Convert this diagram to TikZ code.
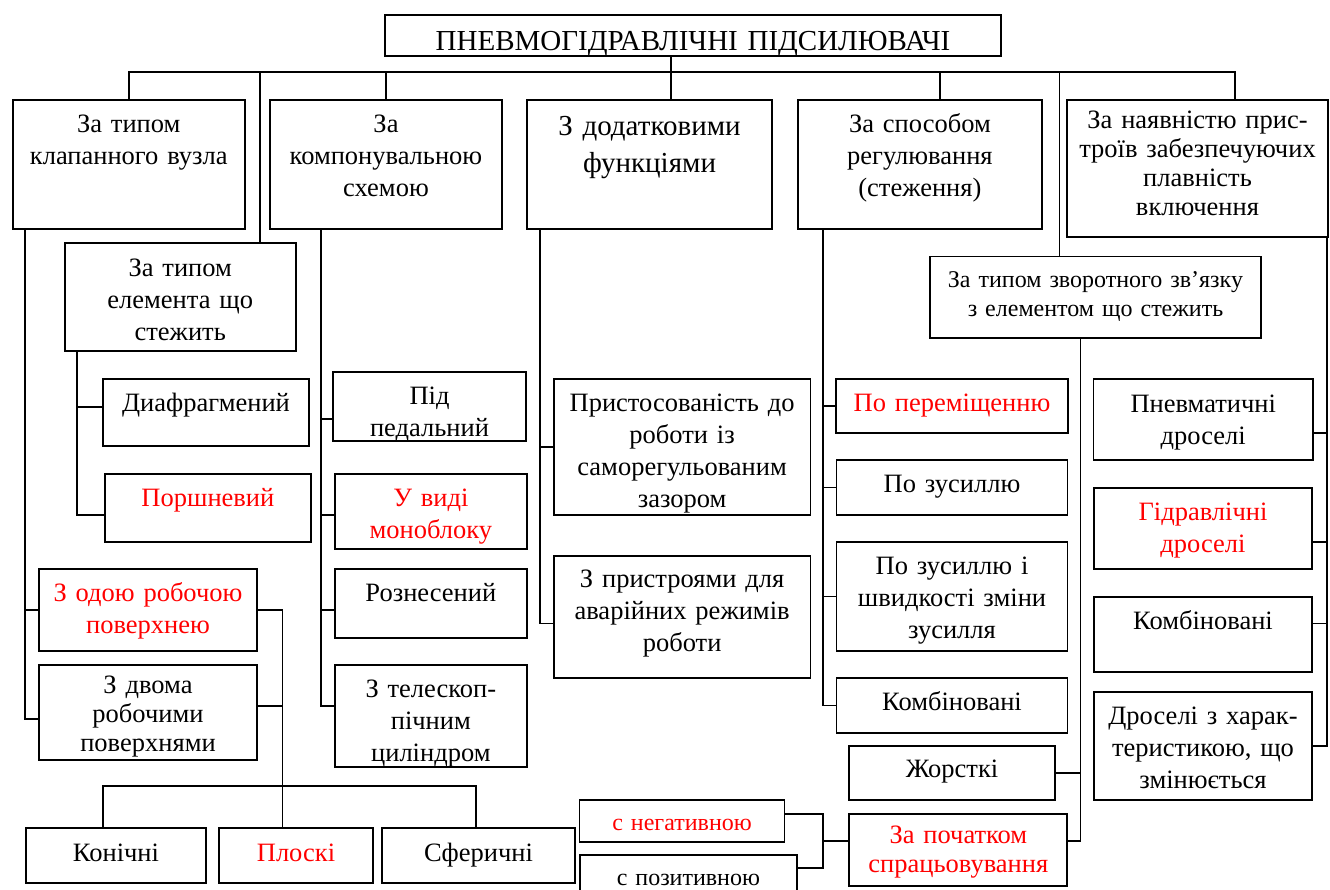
\documentclass[tikz,border=0pt]{standalone}
\usepackage{fontspec}
\setmainfont{Liberation Serif}
\begin{document}
\begin{tikzpicture}[x=1pt,y=-1pt,
    box/.style={draw=black, line width=1.8pt, anchor=north, align=center, inner xsep=2pt, inner ysep=0pt,
      text height=33pt, font=\fontsize{26.5}{32}\selectfont},
    tight/.style={font=\fontsize{26.5}{29}\selectfont},
    small/.style={font=\fontsize{24}{29}\selectfont},
    hot/.style={text=red},
    link/.style={line width=1.7pt}]
    \useasboundingbox (0,0) rectangle (1330,890);

    \node (title)[box, font=\fontsize{29}{32}\selectfont, text width=612pt, text height=36pt, text depth=5pt] at (693,14) {ПНЕВМОГІДРАВЛІЧНІ ПІДСИЛЮВАЧІ};

    \node (kl)[box, text width=228pt, text depth=96pt] 	at (128.75,99) {За типом\\клапанного вузла};
    \node (kom)[box, text width=228pt, text depth=96pt] 	at (386,99)    {За\\компонувальною\\схемою};
    \node (zd)[box, font=\fontsize{29}{37}\selectfont, text width=241pt, text height=36pt, text depth=93.3pt] at (649.5,99) {З додатковими\\функціями};
    \node (sp)[box, text width=240pt, text depth=96pt] 	at (919.9,99)  {За способом\\регулювання\\(стеження)};
    \node (nav)[box, tight, text width=257pt, text height=29pt, text depth=108pt] at (1197.5,99) {За наявністю прис-\\троїв забезпечуючих\\плавність\\включення};

    \node (elem)[box, text width=227pt, text depth=75pt] 	at (180.25,242.3) {За типом\\елемента що\\стежить};
    \node (zvorot)[box, small, text width=327pt, text height=31pt, text depth=50.6pt] at (1095.5,255.7) {За типом зворотного зв’язку\\з елементом що стежить};

    \node (diaf)[box, text width=202pt, text depth=34pt] 		at (206,378)   {Диафрагмений};
    \node (porsh)[box, hot, text width=202pt, text depth=34.7pt] 	at (207.9,473) {Поршневий};
    \node (odoy)[box, hot, text width=214pt, text depth=49pt] 	at (148,568)   {З одою робочою\\поверхнею};
    \node (dvoma)[box, tight, text width=214pt, text height=29.3pt, text depth=66pt] at (148,663.7) {З двома\\робочими\\поверхнями};

    \node (pid)[box, text width=189pt, text depth=36pt] 		at (429.5,371)   {Під\\педальний};
    \node (mono)[box, hot, text width=188pt, text depth=42pt] 	at (430.85,473)  {У виді\\моноблоку};
    \node (rozn)[box, text width=188pt, text depth=35.7pt] 	at (430.85,568)  {Рознесений};
    \node (tele)[box, text width=188pt, text depth=69pt] 		at (430.85,663.7){З телескоп-\\пічним\\циліндром};

    \node (konic)[box, text width=175.5pt, text height=34pt, text depth=21pt] 	at (116,826.7)   {Конічні};
    \node (plosk)[box, hot, text width=150pt, text height=34pt, text depth=21pt] 	at (296,826.7)   {Плоскі};
    \node (sfer)[box, text width=189pt, text height=34pt, text depth=21pt] 	at (478.5,826.7) {Сферичні};

    \node (prist)[box, text width=252.8pt, text depth=103pt] 		at (682.1,378) {Пристосованість до\\роботи із\\саморегульованим\\зазором};
    \node (avar)[box, text width=252.8pt, text height=32pt, text depth=90pt] 	at (682.1,555) {З пристроями для\\аварійних режимів\\роботи};

    \node (perem)[box, hot, text width=228pt, text depth=21pt] 		at (952,378)   {По переміщенню};
    \node (zus)[box, text width=227pt, text height=32.4pt, text depth=22.3pt] 	at (952,459.3) {По зусиллю};
    \node (zusi)[box, text width=227pt, text height=32.3pt, text depth=76.7pt] 	at (952,541)   {По зусиллю і\\швидкості зміни\\зусилля};
    \node (komb1)[box, text width=227pt, text height=32.7pt, text depth=22pt] 	at (952,677.3) {Комбіновані};
    \node (zhor)[box, text width=201.3pt, text height=31.7pt, text depth=22.6pt] at (952,745)   {Жорсткі};
    \node (pochat)[box, hot, tight, text width=214pt, text height=29.4pt, text depth=42.3pt] at (958.35,813.3) {За початком\\спрацьовування};
    \node (neg)[box, hot, small, text width=201pt, text height=30pt, text depth=11.4pt] 	at (682.05,799.3) {с негативною};
    \node (poz)[box, small, text width=213.6pt, text height=30.7pt, text depth=30pt] 	at (688.4,854.3)  {с позитивною};

    \node (pnev)[box, text width=215.5pt, text height=34pt, text depth=47.3pt] 	at (1203.25,378) {Пневматичні\\дроселі};
    \node (gidr)[box, hot, text width=214pt, text height=32.7pt, text depth=48.3pt] at (1203,487.3) {Гідравлічні\\дроселі};
    \node (komb2)[box, text width=214pt, text height=32.6pt, text depth=42.4pt] 	at (1203,595.7) {Комбіновані};
    \node (drosel)[box, text width=214pt, text height=32.3pt, text depth=76pt] 	at (1203,691)   {Дроселі з харак-\\теристикою, що\\змінюється};

    % trunk tops
    \coordinate (bus) at (671,72);
    \coordinate (t1) at ([xshift=13.3]kl.south west);
    \coordinate (t2) at ([xshift=13.1]elem.south west);
    \coordinate (t3) at ([xshift=51.6]kom.south west);
    \coordinate (t4) at ([xshift=14]zd.south west);
    \coordinate (t5) at ([xshift=26.2]sp.south west);
    \coordinate (t6) at ([xshift=-14.9]zvorot.south);
    \coordinate (t7) at ([xshift=-1.8]nav.south east);
    \coordinate (j) at ([xshift=-25.5,yshift=9.15]pochat.west);

    \draw[link] (bus |- title.south) -- (bus);
    \foreach \n/\dx in {kl/0, elem/80, kom/0, zd/21.5, sp/20, zvorot/-36, nav/37.5}
      \draw[link] ([xshift=\dx]\n.north) |- (bus);

    \foreach \n/\dy in {odoy/0, dvoma/-6.6}
      \draw[link] ([yshift=\dy]\n.west) -| (t1);
    \foreach \n/\dy in {diaf/5.5, porsh/-7}
      \draw[link] ([yshift=\dy]\n.west) -| (t2);
    \foreach \n/\dy in {pid/-12.5, mono/-3.5, rozn/-6.6, tele/9.7}
      \draw[link] ([yshift=\dy]\n.west) -| (t3);
    \foreach \n/\dy in {prist/0, avar/-6.7}
      \draw[link] ([yshift=\dy]\n.west) -| (t4);
    \foreach \n in {perem, zus, zusi, komb1}
      \draw[link] (\n.west) -| (t5);
    \foreach \n/\dy in {zhor/0, pochat/9.15}
      \draw[link] ([yshift=\dy]\n.east) -| (t6);
    \foreach \n/\dy in {pnev/-13.35, gidr/-13.35, komb2/10.5, drosel/0}
      \draw[link] ([yshift=\dy]\n.east) -| (t7);

    \draw[link] (odoy.east) -| ([xshift=-13.4]plosk.north);
    \draw[link] ([yshift=6.35]dvoma.east) -| ([xshift=-13.4]plosk.north);
    \draw[link] ([xshift=-13]konic.north) -- ++(0,-40.7) -| ([xshift=-2.5]sfer.north);

    \draw[link] ([yshift=9.15]pochat.west) -- (j);
    \draw[link] ([yshift=6.7]neg.east) -| (j);
    \draw[link] ([yshift=-13.4]poz.north east) -| (j);
  \end{tikzpicture}
\end{document}
